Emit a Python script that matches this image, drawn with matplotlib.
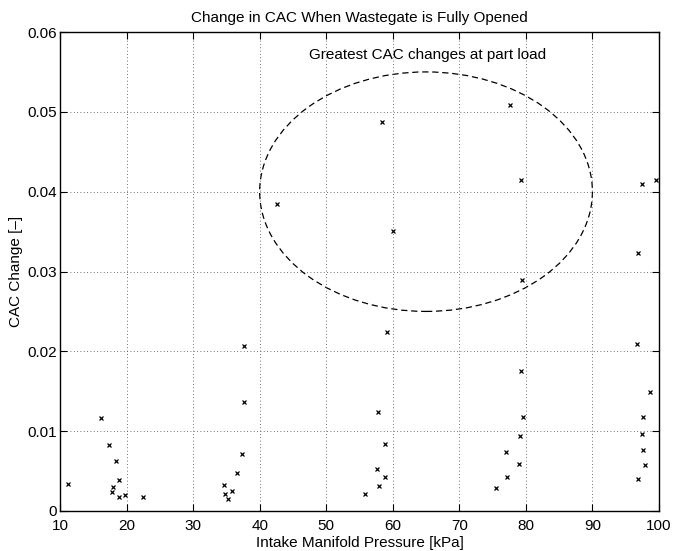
import numpy as np
import matplotlib
matplotlib.use("Agg")
import matplotlib.pyplot as plt
from matplotlib.patches import Ellipse

plt.rcParams['font.family'] = ['Liberation Sans', 'DejaVu Sans']

pressure = [11.2, 16.1, 17.3, 18.4, 18.8, 17.9, 17.8, 18.9, 19.8, 22.4,
            34.6, 34.8, 35.2, 35.8, 36.6, 37.4, 37.7, 37.6,
            42.6, 58.4, 60.0, 59.2, 57.8, 58.8, 57.7, 58.8, 57.9, 55.8,
            77.6, 79.2, 79.4, 79.3, 79.5, 79.1, 77.0, 79.0, 77.2, 75.5,
            97.4, 99.6, 96.8, 96.7, 98.6, 97.6, 97.4, 97.6, 97.9, 96.8]
cac_change = [0.0034, 0.0116, 0.0083, 0.0063, 0.0039, 0.0030, 0.0024, 0.0018, 0.0020, 0.0018,
              0.0032, 0.0021, 0.0015, 0.0025, 0.0048, 0.0072, 0.0136, 0.0207,
              0.0384, 0.0487, 0.0351, 0.0224, 0.0124, 0.0084, 0.0052, 0.0042, 0.0031, 0.0021,
              0.0508, 0.0414, 0.0289, 0.0175, 0.0118, 0.0094, 0.0074, 0.0059, 0.0042, 0.0029,
              0.0409, 0.0414, 0.0323, 0.0209, 0.0149, 0.0118, 0.0096, 0.0076, 0.0057, 0.0040]

ellipse_center = (65, 0.040)
ellipse_width = 50
ellipse_height = 0.030

fig = plt.figure(figsize=(6.74, 5.51), dpi=100)
ax = fig.add_axes([0.089, 0.0726, 0.8887, 0.8693])

ax.plot(pressure, cac_change, 'x', color='black', markersize=3.5, markeredgewidth=0.9)
ax.add_patch(Ellipse(ellipse_center, ellipse_width, ellipse_height, fill=False,
                     edgecolor='black', linestyle=(0, (5, 3)), linewidth=0.9))
ax.text(47.4, 0.0571, 'Greatest CAC changes at part load', fontsize=11, va='center', ha='left')

ax.set_xlim(10, 100)
ax.set_ylim(0, 0.06)
ax.set_xticks(np.arange(10, 101, 10))
ax.set_yticks(np.arange(0, 0.0601, 0.01))
ax.set_yticklabels(['0', '0.01', '0.02', '0.03', '0.04', '0.05', '0.06'])
ax.grid(True, linestyle=(0, (1, 3)), color='#444444', linewidth=0.6)
ax.tick_params(direction='in', top=True, right=True, labelsize=11, length=5, width=0.8)
ax.tick_params(axis='x', pad=5.5)
ax.tick_params(axis='y', pad=2)
for s in ax.spines.values():
    s.set_linewidth(1.0)

ax.set_title('Change in CAC When Wastegate is Fully Opened', fontsize=11, pad=7)
ax.set_xlabel('Intake Manifold Pressure [kPa]', fontsize=11, labelpad=2.5)
ax.set_ylabel('CAC Change [–]', fontsize=11, labelpad=3)

fig.savefig('out.png', dpi=100)
